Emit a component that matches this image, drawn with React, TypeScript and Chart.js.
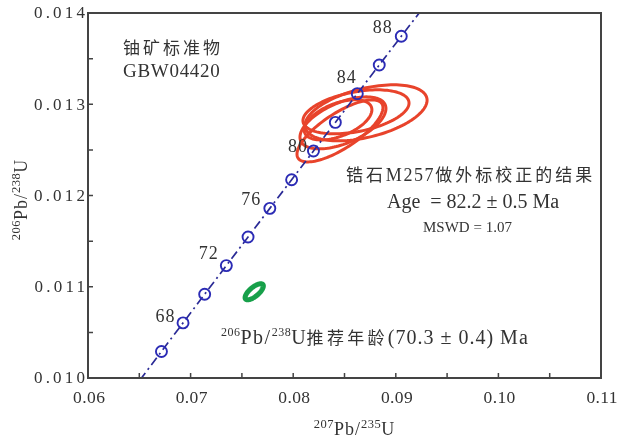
import React, { useEffect, useRef } from 'react';
import { Chart, registerables } from 'chart.js';

Chart.register(...registerables);

// ---------- data ----------
const X_MIN = 0.06;
const X_MAX = 0.11;
const Y_MIN = 0.010;
const Y_MAX = 0.014;
const X_TICK_LABELS = ['0.06', '0.07', '0.08', '0.09', '0.10', '0.11'];
const Y_TICK_LABELS = ['0.010', '0.011', '0.012', '0.013', '0.014'];

// concordia curve nodes (age in Ma, 207Pb/235U, 206Pb/238U)
const CONCORDIA_AGES = [64, 66, 68, 70, 72, 74, 76, 78, 80, 82, 84, 86, 88, 90];
const CONCORDIA_X = [0.065059, 0.067159, 0.069263, 0.071371, 0.073484, 0.0756, 0.077721, 0.079846, 0.081975, 0.084108, 0.086246, 0.088387, 0.090533, 0.092683];
const CONCORDIA_Y = [0.009977, 0.010291, 0.010604, 0.010918, 0.011232, 0.011545, 0.011859, 0.012173, 0.012487, 0.012801, 0.013116, 0.01343, 0.013745, 0.014059];
const MARKER_AGES = [66, 68, 70, 72, 74, 76, 78, 80, 82, 84, 86, 88];
const LABELED_AGES = [68, 72, 76, 80, 84, 88];

// zircon M257 analyses (error ellipses: centre, half extents, correlation)
const ZIRCON_X = [0.0871, 0.08612, 0.08485, 0.08456, 0.08437];
const ZIRCON_Y = [0.012906, 0.012917, 0.012796, 0.012708, 0.012829];
const ZIRCON_SX = [0.00595, 0.00517, 0.00419, 0.00419, 0.0033];
const ZIRCON_SY = [0.000307, 0.000241, 0.000285, 0.00034, 0.00022];
const ZIRCON_RHO = [0.45, 0.4, 0.55, 0.75, 0.5];

// uraninite standard GBW04420
const STD_X = [0.0762];
const STD_Y = [0.010945];
const STD_SX = [0.00089];
const STD_SY = [0.000088];
const STD_RHO = [0.72];

// ---------- styles ----------
const FONT = '"Liberation Serif", "Times New Roman", "Noto Sans CJK SC", serif';
const TEXT = '#333333';
const AXIS = '#444444';
const BLUE_LINE = '#2a2a96';
const BLUE_MARK = '#2b2bb5';
const RED = '#e8432b';
const GREEN = '#17a04a';

const LABEL_OFFSET: Record<number, [number, number]> = {
  68: [-18, -6],
  72: [-18, -11],
  76: [-19, -8],
  80: [-16, -4],
  84: [-11, -15],
  88: [-19, -8],
};

type Seg = { t: string; size: number; sp: number; sup?: boolean };

function segsWidth(ctx: CanvasRenderingContext2D, segs: Seg[]) {
  let w = 0;
  for (const s of segs) {
    ctx.font = `${s.size}px ${FONT}`;
    ctx.letterSpacing = '0px';
    w += ctx.measureText(s.t).width + s.sp * [...s.t].length;
  }
  return w;
}

function drawSegs(ctx: CanvasRenderingContext2D, segs: Seg[], x: number, y: number, baseSize: number) {
  let cx = x;
  for (const s of segs) {
    ctx.font = `${s.size}px ${FONT}`;
    ctx.letterSpacing = '0px';
    const w = ctx.measureText(s.t).width + s.sp * [...s.t].length;
    ctx.letterSpacing = `${s.sp}px`;
    ctx.fillText(s.t, cx, s.sup ? y - baseSize * 0.4 : y);
    cx += w;
  }
  ctx.letterSpacing = '0px';
}

function drawEllipse(chart: any, cx: number, cy: number, sx: number, sy: number, rho: number) {
  const { ctx, scales } = chart;
  const xs = scales.x;
  const ys = scales.y;
  const k = Math.sqrt(1 - rho * rho);
  ctx.beginPath();
  const n = 120;
  for (let i = 0; i <= n; i++) {
    const a = (i / n) * Math.PI * 2;
    const px = xs.getPixelForValue(cx + sx * Math.cos(a));
    const py = ys.getPixelForValue(cy + sy * (rho * Math.cos(a) + k * Math.sin(a)));
    if (i === 0) ctx.moveTo(px, py);
    else ctx.lineTo(px, py);
  }
  ctx.closePath();
  ctx.stroke();
}

const decorPlugin = {
  id: 'decor',
  beforeDraw(chart: any) {
    const { ctx, width, height } = chart;
    ctx.save();
    ctx.fillStyle = '#ffffff';
    ctx.fillRect(0, 0, width, height);
    ctx.restore();
  },
  beforeDatasetsDraw(chart: any) {
    const { ctx, chartArea } = chart;
    ctx.save();
    ctx.beginPath();
    ctx.rect(chartArea.left, chartArea.top, chartArea.right - chartArea.left, chartArea.bottom - chartArea.top);
    ctx.clip();
    ctx.lineJoin = 'round';
    ctx.strokeStyle = RED;
    ctx.lineWidth = 3;
    for (let i = 0; i < ZIRCON_X.length; i++) {
      drawEllipse(chart, ZIRCON_X[i], ZIRCON_Y[i], ZIRCON_SX[i], ZIRCON_SY[i], ZIRCON_RHO[i]);
    }
    ctx.strokeStyle = GREEN;
    ctx.lineWidth = 5;
    for (let i = 0; i < STD_X.length; i++) {
      drawEllipse(chart, STD_X[i], STD_Y[i], STD_SX[i], STD_SY[i], STD_RHO[i]);
    }
    ctx.restore();
  },
  afterDraw(chart: any) {
    const { ctx, chartArea, scales } = chart;
    const xs = scales.x;
    const ys = scales.y;
    const { left, right, top, bottom } = chartArea;
    ctx.save();

    // frame
    ctx.strokeStyle = AXIS;
    ctx.lineWidth = 2;
    ctx.strokeRect(left, top, right - left, bottom - top);

    // inward ticks
    ctx.lineWidth = 1.5;
    ctx.beginPath();
    for (const t of xs.ticks) {
      const p = xs.getPixelForValue(t.value);
      if (p <= left + 1 || p >= right - 1) continue;
      ctx.moveTo(p, bottom);
      ctx.lineTo(p, bottom - 5);
    }
    for (const t of ys.ticks) {
      const p = ys.getPixelForValue(t.value);
      if (p <= top + 1 || p >= bottom - 1) continue;
      ctx.moveTo(left, p);
      ctx.lineTo(left + 5, p);
    }
    ctx.stroke();

    ctx.fillStyle = TEXT;
    ctx.textAlign = 'left';
    ctx.textBaseline = 'middle';

    // x tick labels
    for (const lab of X_TICK_LABELS) {
      const p = xs.getPixelForValue(parseFloat(lab));
      const segs = [{ t: lab, size: 17.5, sp: 0.4 }];
      const w = segsWidth(ctx, segs) - 0.4;
      drawSegs(ctx, segs, p - w / 2 + 1, bottom + 20, 17.5);
    }
    // y tick labels
    for (const lab of Y_TICK_LABELS) {
      const p = ys.getPixelForValue(parseFloat(lab));
      const segs = [{ t: lab, size: 17, sp: 3.2 }];
      const w = segsWidth(ctx, segs) - 3.2;
      drawSegs(ctx, segs, left - 3 - w, p + 1, 17);
    }

    // concordia age labels
    for (const age of LABELED_AGES) {
      const i = CONCORDIA_AGES.indexOf(age);
      const px = xs.getPixelForValue(CONCORDIA_X[i]);
      const py = ys.getPixelForValue(CONCORDIA_Y[i]);
      const [dx, dy] = LABEL_OFFSET[age];
      const segs = [{ t: String(age), size: 18, sp: 1 }];
      const w = segsWidth(ctx, segs) - 1;
      drawSegs(ctx, segs, px + dx - w / 2, py + dy, 18);
    }

    // annotations
    ctx.textBaseline = 'alphabetic';
    drawSegs(ctx, [{ t: '铀矿标准物', size: 17, sp: 3 }], 123, 54, 17);
    drawSegs(ctx, [{ t: 'GBW04420', size: 19, sp: 0.7 }], 123, 77, 19);
    drawSegs(
      ctx,
      [
        { t: '锆石', size: 17, sp: 2.9 },
        { t: 'M257', size: 18, sp: 1.6 },
        { t: '做外标校正的结果', size: 17, sp: 3 },
      ],
      346, 181, 17
    );
    drawSegs(ctx, [{ t: 'Age  = 82.2 ± 0.5 Ma', size: 20, sp: 0 }], 387, 208, 20);
    drawSegs(ctx, [{ t: 'MSWD = 1.07', size: 15, sp: 0 }], 423, 232, 15);
    drawSegs(
      ctx,
      [
        { t: '206', size: 12, sp: 0.5, sup: true },
        { t: 'Pb/', size: 20, sp: 1.5 },
        { t: '238', size: 12, sp: 0.5, sup: true },
        { t: 'U', size: 20, sp: 1 },
        { t: '推荐年龄', size: 17, sp: 3.3 },
        { t: '(70.3 ± 0.4) Ma', size: 20, sp: 1 },
      ],
      221, 344, 20
    );

    // axis titles
    const xTitle: Seg[] = [
      { t: '207', size: 12.5, sp: 0.5, sup: true },
      { t: 'Pb/', size: 18, sp: 1 },
      { t: '235', size: 12.5, sp: 0.5, sup: true },
      { t: 'U', size: 18, sp: 0 },
    ];
    const xw = segsWidth(ctx, xTitle);
    drawSegs(ctx, xTitle, 354 - xw / 2, 435, 18);

    const yTitle: Seg[] = [
      { t: '206', size: 12.5, sp: 0.5, sup: true },
      { t: 'Pb/', size: 18, sp: 1 },
      { t: '238', size: 12.5, sp: 0.5, sup: true },
      { t: 'U', size: 18, sp: 0 },
    ];
    const yw = segsWidth(ctx, yTitle);
    ctx.translate(27, 200);
    ctx.rotate(-Math.PI / 2);
    drawSegs(ctx, yTitle, -yw / 2, 0, 18);

    ctx.restore();
  },
};

export default function App() {
  const ref = useRef<HTMLCanvasElement | null>(null);

  useEffect(() => {
    const canvas = ref.current;
    if (!canvas) return;
    const linePts = CONCORDIA_AGES.map((_, i) => ({ x: CONCORDIA_X[i], y: CONCORDIA_Y[i] }));
    const markPts = MARKER_AGES.map((a) => {
      const i = CONCORDIA_AGES.indexOf(a);
      return { x: CONCORDIA_X[i], y: CONCORDIA_Y[i] };
    });
    const chart = new Chart(canvas, {
      type: 'scatter',
      data: {
        datasets: [
          {
            type: 'line',
            data: linePts,
            borderColor: BLUE_LINE,
            borderWidth: 1.7,
            borderDash: [9, 4, 2, 4],
            pointRadius: 0,
            fill: false,
            tension: 0,
            order: 2,
          } as any,
          {
            type: 'scatter',
            data: markPts,
            pointStyle: 'circle',
            pointRadius: 5.5,
            borderColor: BLUE_MARK,
            borderWidth: 1.9,
            backgroundColor: 'rgba(255,255,255,0)',
            order: 1,
          } as any,
        ],
      },
      options: {
        animation: false,
        responsive: false,
        maintainAspectRatio: false,
        events: [],
        layout: { padding: { top: 13, right: 16, left: 0, bottom: 0 } },
        plugins: { legend: { display: false }, tooltip: { enabled: false } },
        scales: {
          x: {
            type: 'linear',
            min: X_MIN,
            max: X_MAX,
            ticks: { stepSize: 0.005, display: false },
            grid: { display: false },
            border: { display: false },
            afterFit: (s: any) => {
              s.height = 61;
            },
          },
          y: {
            type: 'linear',
            min: Y_MIN,
            max: Y_MAX,
            ticks: { stepSize: 0.0005, display: false },
            grid: { display: false },
            border: { display: false },
            afterFit: (s: any) => {
              s.width = 88;
            },
          },
        },
      } as any,
      plugins: [decorPlugin],
    });
    return () => chart.destroy();
  }, []);

  return (
    <div style={{ position: 'absolute', left: 0, top: 0, width: 617, height: 439 }}>
      <canvas ref={ref} width={617} height={439} style={{ width: 617, height: 439, display: 'block' }} />
    </div>
  );
}
